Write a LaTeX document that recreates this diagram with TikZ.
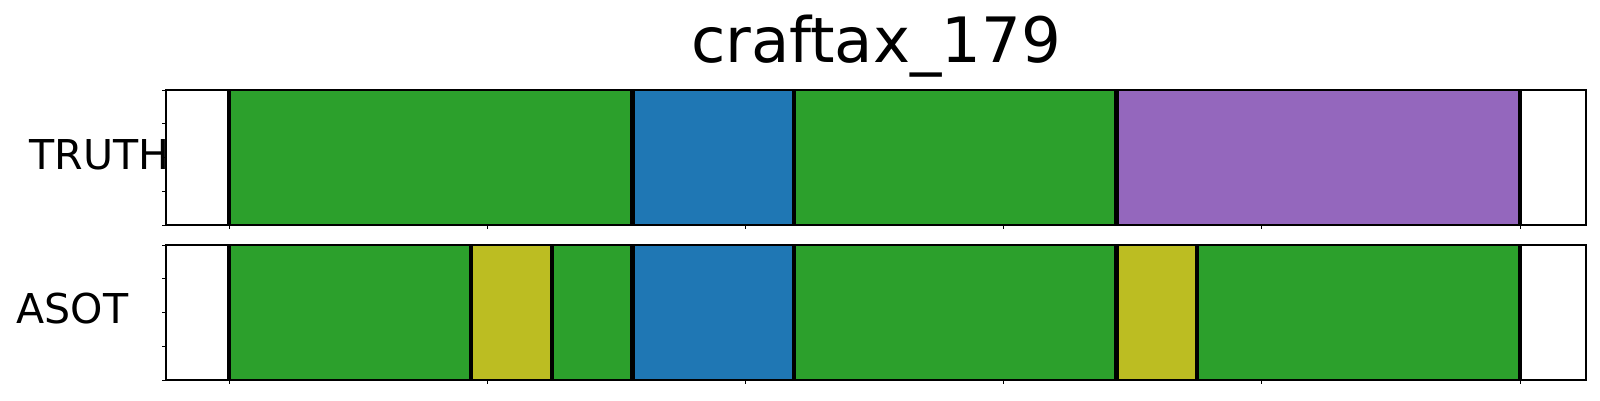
\documentclass[tikz,border=0pt]{standalone}
\usepackage{fontspec}
\setmainfont{DejaVu Sans}
\usepackage{xcolor}
\definecolor{segGreen}{HTML}{2CA02C}
\definecolor{segBlue}{HTML}{1F77B4}
\definecolor{segPurple}{HTML}{9467BD}
\definecolor{segOlive}{HTML}{BCBD22}

\begin{document}
\begin{tikzpicture}[line cap=butt,line join=miter,x=0.1mm,y=0.1mm]
    \useasboundingbox (0,0) rectangle (1600,400);

    \draw (876,338) node[anchor=base,font=\fontsize{17.8pt}{20pt}\selectfont] (title) {craftax\_179};
    \draw (29,231) node[anchor=base west,inner sep=0pt,font=\fontsize{11.7pt}{14pt}\selectfont] (truth) {TRUTH};
    \draw (16,77) node[anchor=base west,inner sep=0pt,font=\fontsize{11.7pt}{14pt}\selectfont] (asot) {ASOT};

    \begin{scope}[shift={(229,0)},x=8.06875mm]
    
    \fill[segGreen] (0,175) rectangle (5,310);
    \fill[segBlue] (5,175) rectangle (7,310);
    \fill[segGreen] (7,175) rectangle (11,310);
    \fill[segPurple] (11,175) rectangle (16,310);
    
    \fill[segGreen] (0,20) rectangle (3,155);
    \fill[segOlive] (3,20) rectangle (4,155);
    \fill[segGreen] (4,20) rectangle (5,155);
    \fill[segBlue] (5,20) rectangle (7,155);
    \fill[segGreen] (7,20) rectangle (11,155);
    \fill[segOlive] (11,20) rectangle (12,155);
    \fill[segGreen] (12,20) rectangle (16,155);
    
    \foreach \t in {0,5,7,11,16} \draw [line width=0.42mm] (\t,175) -- (\t,310);
    \foreach \t in {0,3,4,5,7,11,12,16} \draw [line width=0.42mm] (\t,20) -- (\t,155);
    
    \foreach \t in {0,3.2,6.4,9.6,12.8,16} {
        \draw [line width=0.1mm] (\t,175) -- (\t,171);
        \draw [line width=0.1mm] (\t,20) -- (\t,16);
    }
    \end{scope}

    \draw [line width=0.2mm] (166,175) rectangle (1586,310);
    \draw [line width=0.2mm] (166,20) rectangle (1586,155);
    
    \foreach \y in {0,1,2,3,4} {
        \draw [line width=0.1mm] (166,175+33.75*\y) -- (162,175+33.75*\y);
        \draw [line width=0.1mm] (166,20+33.75*\y) -- (162,20+33.75*\y);
    }
\end{tikzpicture}
\end{document}
